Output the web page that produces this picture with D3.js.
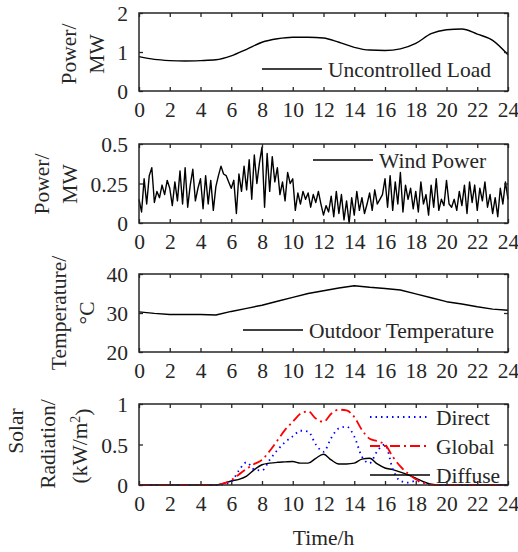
<!DOCTYPE html>
<html>
<head>
<meta charset="utf-8">
<script src="https://cdn.jsdelivr.net/npm/d3@7"></script>
<style>
  body { margin: 0; background: #fff; }
  text { font-family: "Liberation Serif", "Times New Roman", serif; fill: #262626; }
</style>
</head>
<body>
<svg id="chart" width="518" height="552"></svg>
<script>
// ---- data ----
var hours = d3.range(0, 25);                 // hourly 0..24
var halfHours = d3.range(0, 24.01, 0.5);     // 0, 0.5, .. 24
var tenMin = d3.range(0, 145).map(function(i) { return i / 6; });
var xTicks = d3.range(0, 25, 2);

var loadMW = [0.88, 0.81, 0.78, 0.77, 0.78, 0.80, 0.90, 1.07, 1.25, 1.34, 1.38, 1.38, 1.36,
              1.25, 1.12, 1.05, 1.04, 1.08, 1.22, 1.47, 1.57, 1.59, 1.46, 1.30, 0.93];

var windMW = [
  0.15, 0.07, 0.28, 0.12, 0.30, 0.35,
  0.13, 0.20, 0.16, 0.24, 0.18, 0.27,
  0.22, 0.11, 0.26, 0.14, 0.33, 0.12,
  0.35, 0.10, 0.24, 0.34, 0.14, 0.22,
  0.28, 0.09, 0.30, 0.12, 0.27, 0.08,
  0.23, 0.30, 0.36, 0.31, 0.30, 0.26,
  0.22, 0.27, 0.06, 0.31, 0.20, 0.36,
  0.21, 0.40, 0.15, 0.43, 0.25, 0.38,
  0.48, 0.10, 0.44, 0.20, 0.42, 0.26,
  0.35, 0.18, 0.26, 0.14, 0.32, 0.25,
  0.28, 0.08, 0.19, 0.12, 0.20, 0.15,
  0.19, 0.10, 0.18, 0.13, 0.20, 0.12,
  0.05, 0.11, 0.07, 0.17, 0.04, 0.20,
  0.06, 0.18, 0.02, 0.14, 0.00, 0.16,
  0.05, 0.20, 0.08, 0.16, 0.06, 0.12,
  0.19, 0.08, 0.21, 0.12, 0.15, 0.18,
  0.28, 0.10, 0.30, 0.08, 0.26, 0.12,
  0.32, 0.07, 0.24, 0.15, 0.22, 0.09,
  0.20, 0.07, 0.26, 0.12, 0.18, 0.05,
  0.24, 0.10, 0.28, 0.08, 0.15, 0.11,
  0.27, 0.12, 0.10, 0.15, 0.08, 0.20,
  0.11, 0.24, 0.06, 0.26, 0.13, 0.24,
  0.08, 0.22, 0.14, 0.26, 0.10, 0.18,
  0.06, 0.16, 0.04, 0.22, 0.12, 0.26,
  0.15];

var tempC = [30.3, 29.9, 29.6, 29.6, 29.6, 29.5, 30.4, 31.2, 32.0, 33.0, 34.0, 35.0, 35.7,
             36.4, 37.0, 36.6, 36.3, 35.9, 34.9, 33.9, 32.9, 32.3, 31.6, 31.0, 30.7];

// half-hour steps, 0..24
var direct = [0,0,0,0,0,0,0,0,0,0, 0, 0.01, 0.04, 0.18, 0.28, 0.19, 0.18, 0.31, 0.43, 0.53,
              0.60, 0.67, 0.66, 0.50, 0.41, 0.58, 0.70, 0.72, 0.60, 0.35, 0.27, 0.42, 0.50,
              0.20, 0.05, 0.03, 0.05, 0.03, 0, 0, 0,0,0,0,0,0,0,0,0];
var globalRad = [0,0,0,0,0,0,0,0,0,0, 0, 0.02, 0.06, 0.13, 0.20, 0.26, 0.31, 0.42, 0.55, 0.68,
                 0.78, 0.88, 0.91, 0.82, 0.78, 0.88, 0.93, 0.92, 0.84, 0.68, 0.57, 0.54, 0.50,
                 0.35, 0.23, 0.14, 0.07, 0.03, 0.005, 0, 0,0,0,0,0,0,0,0,0];
var diffuse = [0,0,0,0,0,0,0,0,0,0, 0, 0.02, 0.05, 0.07, 0.11, 0.19, 0.25, 0.27, 0.28, 0.285,
               0.29, 0.27, 0.27, 0.33, 0.38, 0.31, 0.26, 0.26, 0.27, 0.32, 0.33, 0.26, 0.21,
               0.19, 0.16, 0.125, 0.085, 0.04, 0.01, 0, 0,0,0,0,0,0,0,0,0];

// ---- layout ----
var svg = d3.select("#chart");
var left = 139, right = 508;
var axisColor = "#262626";
var fs = 21.5;

var x = d3.scaleLinear().domain([0, 24]).range([left, right]);

var drawPanel = function(opt) {
	var y = d3.scaleLinear().domain(opt.yDomain).range([opt.bottom, opt.top]);
	var g = svg.append("g");

	//series
	opt.series.forEach(function(s) {
		var line = d3.line()
			.x(function(d, i) { return x(s.xs[i]); })
			.y(function(d) { return y(d); })
			.curve(s.curve || d3.curveLinear);
		g.append("path")
			.datum(s.values)
			.attr("fill", "none")
			.attr("stroke", s.color)
			.attr("stroke-width", s.width)
			.attr("stroke-dasharray", s.dash || null)
			.attr("stroke-linejoin", "round")
			.attr("d", line);
	});

	//frame with inward ticks on all four sides
	var fmt = opt.yFormat || function(d) { return d; };
	var axB = g.append("g").attr("transform", "translate(0," + opt.bottom + ")")
		.call(d3.axisBottom(x).tickValues(xTicks).tickSizeInner(-4).tickSizeOuter(0).tickPadding(11));
	var axT = g.append("g").attr("transform", "translate(0," + opt.top + ")")
		.call(d3.axisTop(x).tickValues(xTicks).tickSizeInner(-4).tickSizeOuter(0).tickFormat(""));
	var axL = g.append("g").attr("transform", "translate(" + left + ",0)")
		.call(d3.axisLeft(y).tickValues(opt.yTicks).tickSizeInner(-4).tickSizeOuter(0).tickPadding(11).tickFormat(fmt));
	var axR = g.append("g").attr("transform", "translate(" + right + ",0)")
		.call(d3.axisRight(y).tickValues(opt.yTicks).tickSizeInner(-4).tickSizeOuter(0).tickFormat(""));

	[axB, axT, axL, axR].forEach(function(a) {
		a.select(".domain").remove();
		a.selectAll("line").attr("stroke", axisColor).attr("stroke-width", 1.3);
		a.selectAll("text").style("font-family", '"Liberation Serif", serif')
			.style("font-size", fs + "px").attr("fill", axisColor);
	});
	axB.selectAll("text").attr("dy", "0.71em");
	axL.selectAll("text").attr("dy", "0.35em");

	g.append("rect")
		.attr("x", left).attr("y", opt.top)
		.attr("width", right - left).attr("height", opt.bottom - opt.top)
		.attr("fill", "none").attr("stroke", axisColor).attr("stroke-width", 1.5);

	//legend entries (no box)
	opt.legend.forEach(function(l) {
		g.append("line")
			.attr("x1", l.x).attr("x2", l.x + 60)
			.attr("y1", l.y).attr("y2", l.y)
			.attr("stroke", l.color).attr("stroke-width", l.width)
			.attr("stroke-dasharray", l.dash || null);
		g.append("text")
			.attr("x", l.x + 66).attr("y", l.y)
			.attr("dy", "0.35em")
			.style("font-size", fs + "px")
			.text(l.label);
	});

	//y label lines, rotated
	opt.yLabel.forEach(function(t) {
		var tx = g.append("text")
			.attr("transform", "translate(" + t.x + "," + t.y + ") rotate(-90)")
			.attr("text-anchor", "middle")
			.attr("dy", "0.35em")
			.style("font-size", fs + "px");
		if (t.sup) {
			tx.append("tspan").text(t.text);
			tx.append("tspan").attr("dy", "-0.45em").style("font-size", "14px").text(t.sup);
			tx.append("tspan").attr("dy", "0.45em").text(t.tail);
		} else {
			tx.text(t.text);
		}
	});

	return y;
};

drawPanel({
	top: 13, bottom: 91, yDomain: [0, 2], yTicks: [0, 1, 2],
	series: [{ xs: hours, values: loadMW, color: "#000", width: 1.4, curve: d3.curveMonotoneX }],
	legend: [{ x: 262, y: 69, color: "#000", width: 1.4, label: "Uncontrolled Load" }],
	yLabel: [{ x: 68, y: 54, text: "Power/" }, { x: 96, y: 54, text: "MW" }]
});

drawPanel({
	top: 144, bottom: 223, yDomain: [0, 0.5], yTicks: [0, 0.25, 0.5],
	series: [{ xs: tenMin, values: windMW, color: "#000", width: 1.4 }],
	legend: [{ x: 313, y: 160, color: "#000", width: 1.4, label: "Wind Power" }],
	yLabel: [{ x: 41, y: 184, text: "Power/" }, { x: 69, y: 184, text: "MW" }]
});

drawPanel({
	top: 274, bottom: 352, yDomain: [20, 40], yTicks: [20, 30, 40],
	series: [{ xs: hours, values: tempC, color: "#000", width: 1.4 }],
	legend: [{ x: 243, y: 330, color: "#000", width: 1.4, label: "Outdoor Temperature" }],
	yLabel: [{ x: 58, y: 313, text: "Temperature/" }, { x: 86, y: 313, text: "°C" }]
});

drawPanel({
	top: 404, bottom: 485, yDomain: [0, 1], yTicks: [0, 0.5, 1],
	series: [
		{ xs: halfHours, values: diffuse, color: "#000", width: 1.4, curve: d3.curveMonotoneX },
		{ xs: halfHours, values: direct, color: "#0000ff", width: 1.8, dash: "1.5,4", curve: d3.curveMonotoneX },
		{ xs: halfHours, values: globalRad, color: "#ff0000", width: 1.8, dash: "10,4,2,4", curve: d3.curveMonotoneX }
	],
	legend: [
		{ x: 370, y: 417, color: "#0000ff", width: 1.8, dash: "1.5,4", label: "Direct" },
		{ x: 370, y: 446, color: "#ff0000", width: 1.8, dash: "10,4,2,4", label: "Global" },
		{ x: 370, y: 475, color: "#000", width: 1.4, label: "Diffuse" }
	],
	yLabel: [
		{ x: 15, y: 431, text: "Solar" },
		{ x: 47, y: 444, text: "Radiation/" },
		{ x: 79, y: 446, text: "(kW/m", sup: "2", tail: ")" }
	]
});

svg.append("text")
	.attr("x", (left + right) / 2).attr("y", 537)
	.attr("dy", "0.35em")
	.attr("text-anchor", "middle")
	.style("font-size", fs + "px")
	.text("Time/h");
</script>
</body>
</html>
